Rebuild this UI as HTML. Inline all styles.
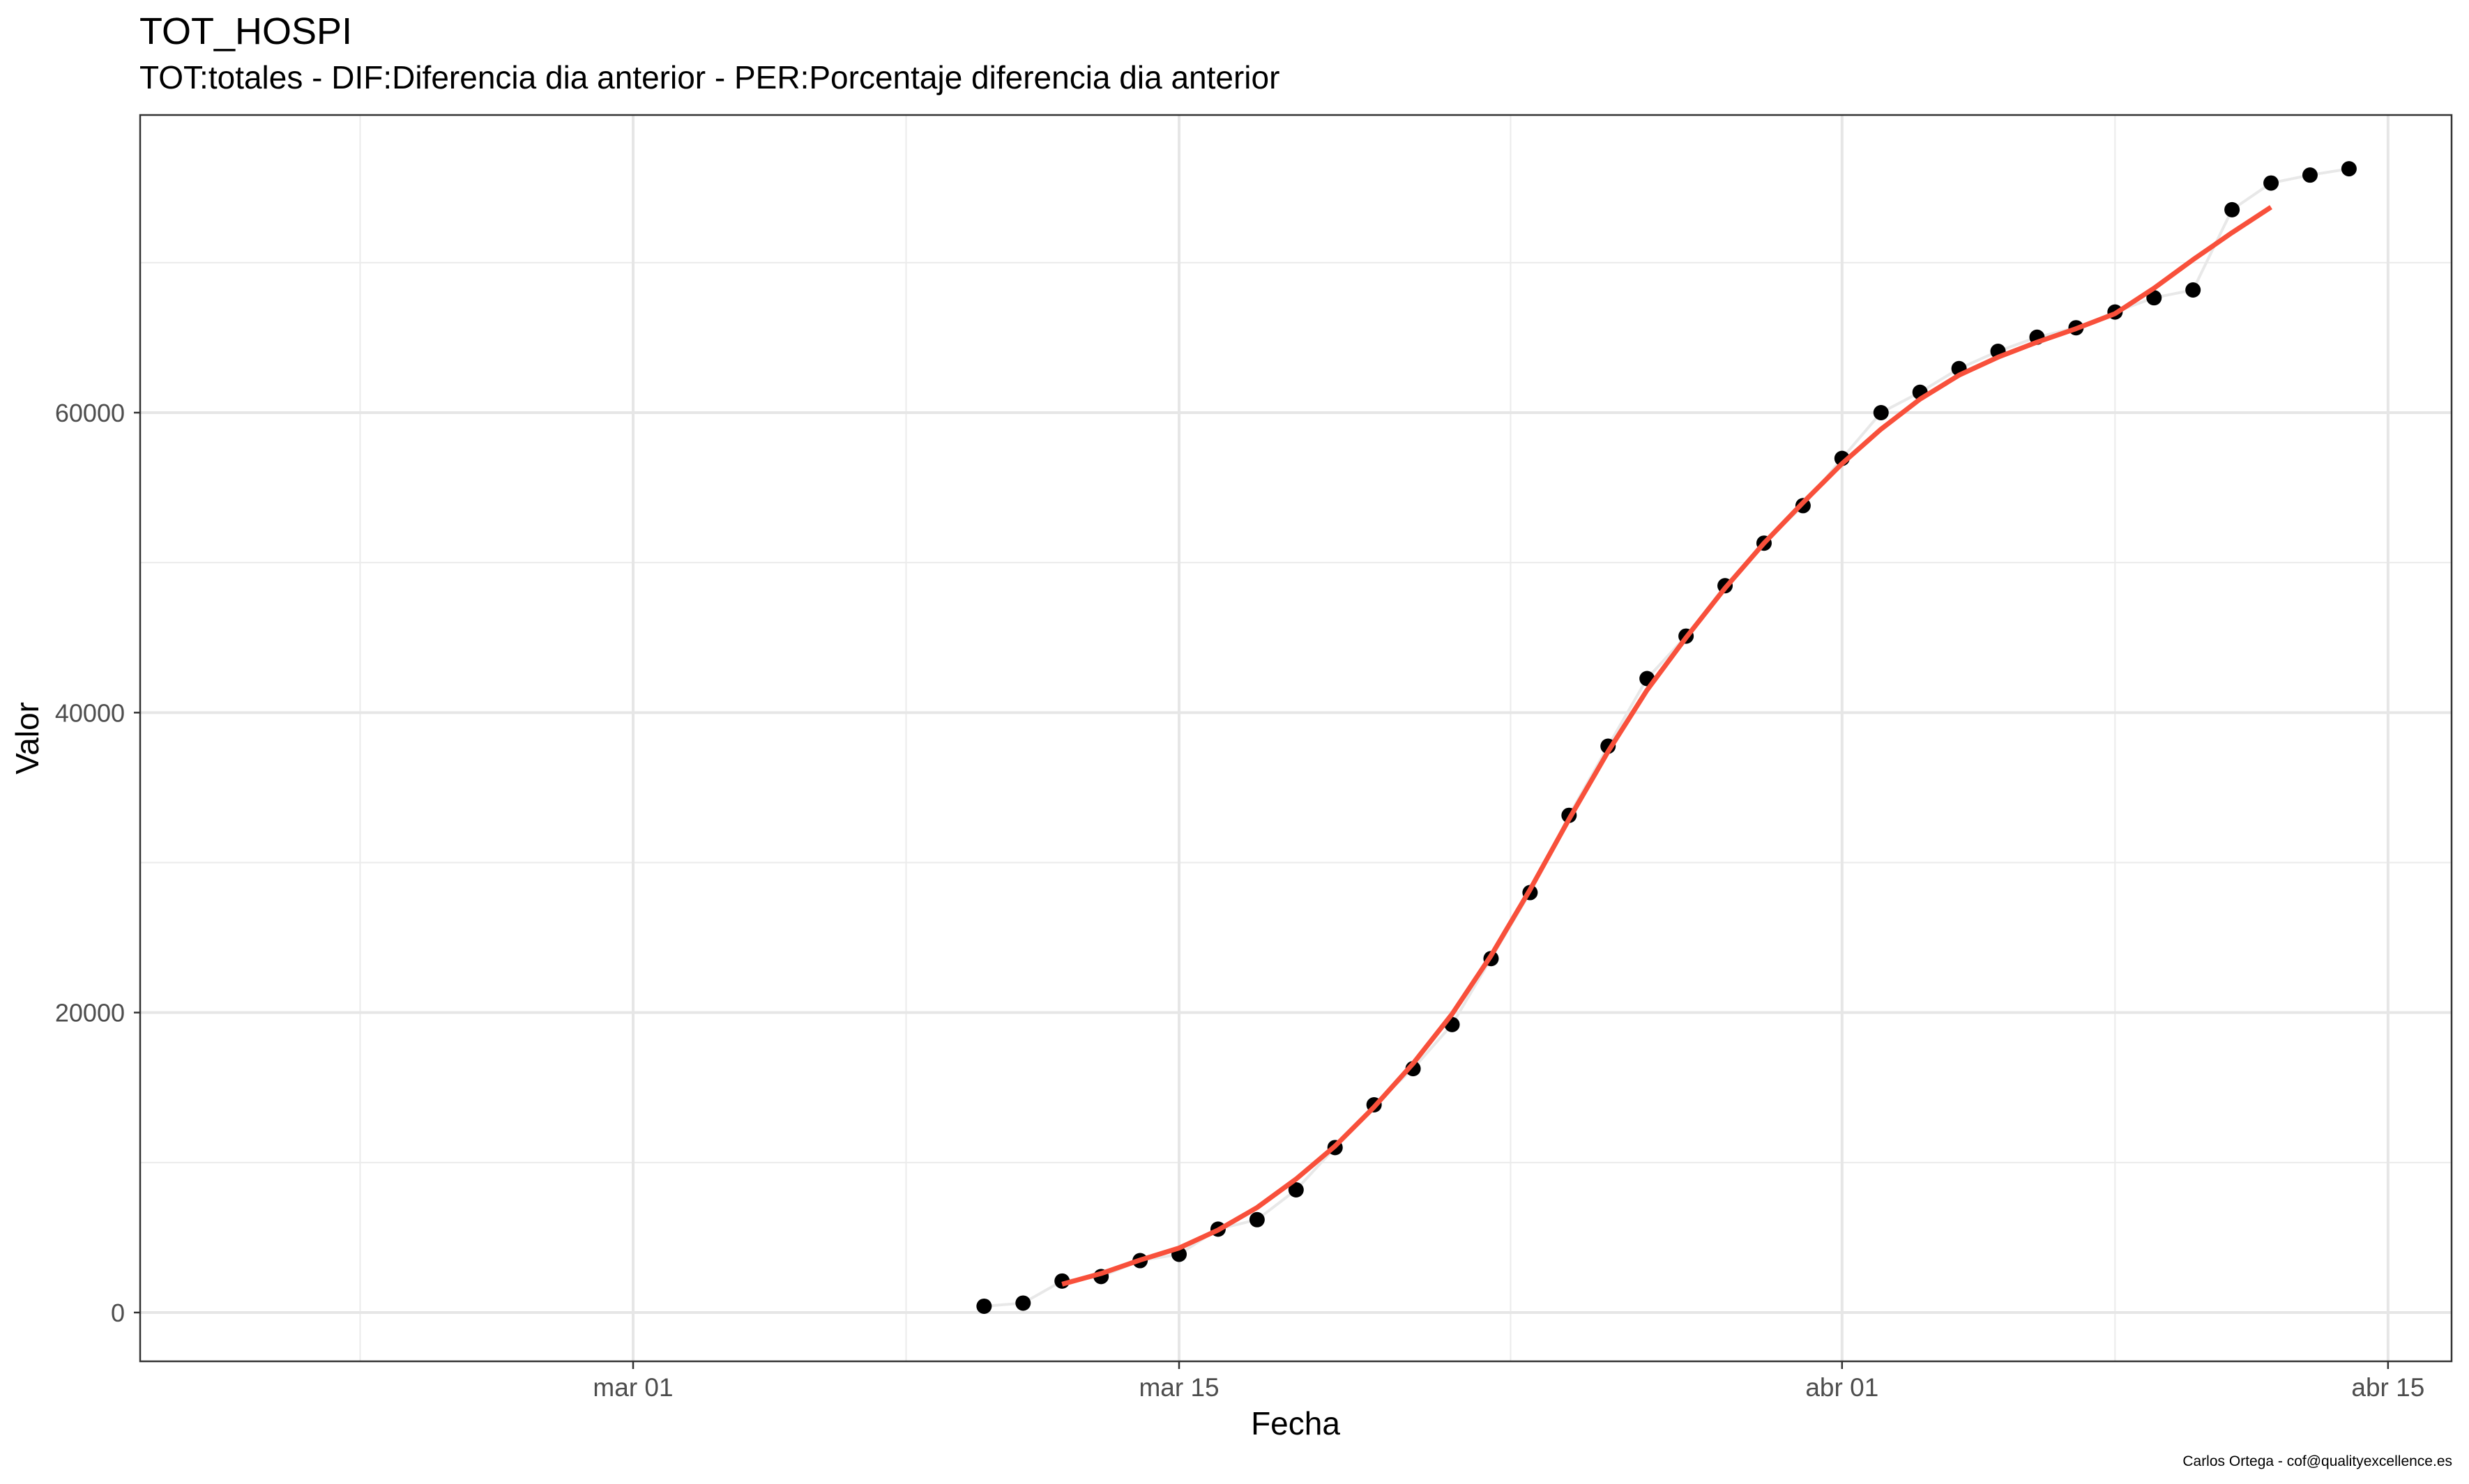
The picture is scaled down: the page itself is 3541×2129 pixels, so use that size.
<!DOCTYPE html>
<html><head><meta charset="utf-8"><style>
html,body{margin:0;padding:0;background:#fff;width:3541px;height:2129px;overflow:hidden}
svg{display:block;font-family:"Liberation Sans",sans-serif}
</style></head><body>
<svg id="chart" width="3541" height="2129" viewBox="0 0 3541 2129">
<rect width="3541" height="2129" fill="#fff"/>
<text x="200" y="63" font-size="54" fill="#000">TOT_HOSPI</text>
<text x="200" y="127" font-size="46" fill="#000">TOT:totales - DIF:Diferencia dia anterior - PER:Porcentaje diferencia dia anterior</text>
<g id="grid"></g>
<g id="marks"></g>
<rect x="201" y="165" width="3315" height="1788" fill="none" stroke="#333" stroke-width="2.5"/>
<g id="axes"></g>
<text x="1858" y="2058" font-size="46" text-anchor="middle" fill="#000">Fecha</text>
<text transform="translate(55,1059) rotate(-90)" font-size="46" text-anchor="middle" fill="#000">Valor</text>
<text x="3517" y="2103" font-size="21" text-anchor="end" fill="#000">Carlos Ortega - cof@qualityexcellence.es</text>
</svg>
<script>
// day index: 0 = mar 01
const pointDays = [9,10,11,12,13,14,15,16,17,18,19,20,21,22,23,24,25,26,27,28,29,30,31,32,33,34,35,36,37,38,39,40,41,42,43,44];
const pointValues = [420,630,2100,2400,3460,3880,5560,6190,8180,11000,13850,16260,19200,23600,28000,33150,37760,42270,45100,48460,51300,53800,56950,60000,61360,62940,64090,65030,65660,66710,67660,68180,73530,75310,75840,76260];
const smoothDays = [11,12,13,14,15,16,17,18,19,20,21,22,23,24,25,26,27,28,29,30,31,32,33,34,35,36,37,38,39,40,41,42];
const smoothValues = [1890,2600,3500,4300,5500,7000,8900,11100,13700,16600,19900,23800,28200,32900,37400,41500,45000,48300,51300,54000,56600,58900,60900,62500,63700,64700,65600,66600,68300,70200,72000,73700];
const yTicks = [0,20000,40000,60000];
const yMinor = [10000,30000,50000,70000];
const xTickDays = [0,14,31,45];
const xTickLabels = ["mar 01","mar 15","abr 01","abr 15"];
const xMinorDays = [-7,7,22.5,38];

const NS="http://www.w3.org/2000/svg";
const X0=201,X1=3516,Y0=165,Y1=1953;
function xs(d){return 908+d*55.93;}
function ys(v){return 1883-v*(1291/60000);}
function mk(tag,attrs,parent){const e=document.createElementNS(NS,tag);for(const k in attrs)e.setAttribute(k,attrs[k]);parent.appendChild(e);return e;}
const grid=document.getElementById('grid'),marks=document.getElementById('marks'),axes=document.getElementById('axes');

yMinor.forEach(v=>{const l=mk('line',{x1:X0,x2:X1,y1:ys(v),y2:ys(v),stroke:'#ebebeb','stroke-width':2},grid);

});
xMinorDays.forEach(d=>{const l=mk('line',{x1:xs(d),x2:xs(d),y1:Y0,y2:Y1,stroke:'#ebebeb','stroke-width':2},grid);

});
yTicks.forEach(v=>{const l=mk('line',{x1:X0,x2:X1,y1:ys(v),y2:ys(v),stroke:'#e6e6e6','stroke-width':4},grid);


mk('line',{x1:X0-9,x2:X0,y1:ys(v),y2:ys(v),stroke:'#333','stroke-width':2.5},axes);
const t=mk('text',{x:X0-22,y:ys(v)+13,'font-size':36,'text-anchor':'end',fill:'#4d4d4d'},axes);t.textContent=v;

});
xTickDays.forEach((d,i)=>{const l=mk('line',{x1:xs(d),x2:xs(d),y1:Y0,y2:Y1,stroke:'#e6e6e6','stroke-width':4},grid);


mk('line',{x1:xs(d),x2:xs(d),y1:Y1,y2:Y1+11,stroke:'#333','stroke-width':2.5},axes);
const t=mk('text',{x:xs(d),y:2003,'font-size':37,'text-anchor':'middle',fill:'#4d4d4d'},axes);t.textContent=xTickLabels[i];

});

const cl=mk('polyline',{points:pointDays.map((d,i)=>xs(d)+','+ys(pointValues[i])).join(' '),fill:'none',stroke:'#e8e8e8','stroke-width':4},marks);


pointDays.forEach((d,i)=>{const c=mk('circle',{cx:xs(d),cy:ys(pointValues[i]),r:11,fill:'#000'},marks);

});
const sl=mk('polyline',{points:smoothDays.map((d,i)=>xs(d)+','+ys(smoothValues[i])).join(' '),fill:'none',stroke:'#f8503b','stroke-width':7,'stroke-linejoin':'round'},marks);


</script>
</body></html>
